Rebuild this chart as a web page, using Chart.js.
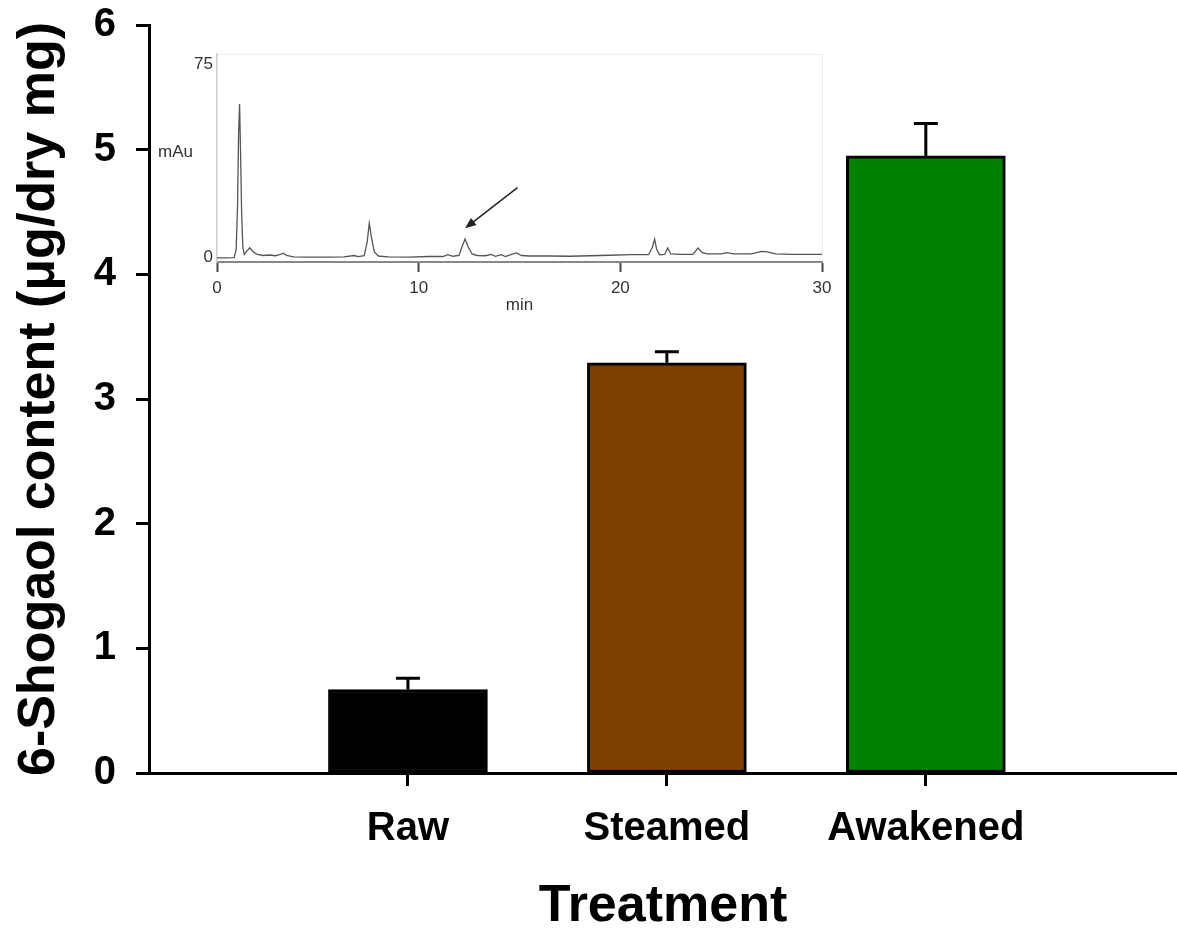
<!DOCTYPE html>
<html><head><meta charset="utf-8">
<script src="https://cdn.jsdelivr.net/npm/chart.js@4/dist/chart.umd.min.js"></script>
<style>
html,body{margin:0;padding:0;background:#fff;}
#wrap{position:relative;width:1177px;height:930px;overflow:hidden;}
#main{position:absolute;left:0;top:0;}
#inset{position:absolute;left:140px;top:40px;}
</style></head><body>
<div id="wrap">
<canvas id="main" width="1177" height="930"></canvas>
<canvas id="inset" width="720" height="285"></canvas>
</div>
<script>
// ---- main bar chart data ----
const categories = ['Raw', 'Steamed', 'Awakened'];
const means = [0.67, 3.29, 4.95];
const errors = [0.09, 0.09, 0.26];
const barColors = ['#000000', '#7f3f00', '#007f00'];
const yTicks = [0, 1, 2, 3, 4, 5, 6];
const catPos = [1, 2, 3];

// ---- inset chromatogram data (min, mAu) ----
const chromTime = [0, 0.5, 0.85, 0.95, 1.02, 1.07, 1.12, 1.17, 1.22, 1.28, 1.35, 1.5, 1.62, 1.8, 2.0, 2.3, 2.6, 2.9, 3.1, 3.3, 3.45, 3.8, 4.5, 5.5, 6.3, 6.8, 7.0, 7.3, 7.45, 7.55, 7.65, 7.8, 8.0, 8.5, 9.5, 10.5, 11.2, 11.45, 11.7, 12.0, 12.15, 12.3, 12.45, 12.65, 12.9, 13.3, 13.6, 13.8, 14.1, 14.3, 14.6, 14.85, 15.1, 15.5, 16.5, 17.5, 18.5, 19.5, 20.5, 21.4, 21.6, 21.7, 21.8, 21.95, 22.2, 22.35, 22.5, 23.0, 23.6, 23.85, 24.05, 24.3, 25.0, 25.3, 25.6, 26.5, 27.0, 27.3, 27.7, 28.5, 30];
const chromSignal = [-0.3, -0.3, -0.2, 3, 20, 48, 59.5, 40, 18, 4, 1.0, 2.5, 3.6, 2.0, 1.0, 0.6, 0.8, 0.5, 0.9, 1.5, 0.6, 0.1, 0, 0, 0.1, 0.6, 0.2, 0.5, 6, 13.1, 8, 2, 0.4, 0.1, 0, 0.2, 0.2, 0.9, 0.3, 0.6, 4, 7.0, 4, 1.2, 0.6, 0.5, 1.0, 0.3, 0.9, 0.2, 1.0, 1.6, 0.6, 0.4, 0.4, 0.3, 0.5, 0.7, 0.9, 0.9, 4, 7.0, 3, 0.9, 1.0, 3.5, 1.2, 1.0, 1.0, 3.5, 1.8, 1.2, 1.2, 1.7, 1.2, 1.2, 2.2, 2.0, 1.2, 1.0, 1.0];
const insetXTicks = [0, 10, 20, 30];
const insetYTicks = [0, 75];
const arrowFrom = [14.9, 27];
const arrowTo = [12.3, 11.2];

const FONT = "'Liberation Sans', Arial, Helvetica, sans-serif";

const errorBars = {
  id: 'errorBars',
  afterDatasetsDraw(chart) {
    const {ctx, scales: {x, y}} = chart;
    ctx.save();
    ctx.strokeStyle = '#000';
    ctx.lineWidth = 3;
    means.forEach((m, i) => {
      const px = x.getPixelForValue(catPos[i]);
      const y0 = y.getPixelForValue(m);
      const y1 = y.getPixelForValue(m + errors[i]);
      ctx.beginPath();
      ctx.moveTo(px, y0); ctx.lineTo(px, y1);
      ctx.moveTo(px - 12, y1); ctx.lineTo(px + 12, y1);
      ctx.stroke();
    });
    ctx.restore();
  }
};

new Chart(document.getElementById('main'), {
  type: 'bar',
  data: {
    datasets: [{
      data: categories.map((c, i) => ({x: catPos[i], y: means[i]})),
      backgroundColor: barColors,
      borderColor: '#000',
      borderWidth: 3,
      borderSkipped: false,
      barThickness: 159
    }]
  },
  options: {
    responsive: false, animation: false, devicePixelRatio: 1, events: [],
    layout: {padding: {top: 25, left: 0, right: 0, bottom: 0}},
    plugins: {legend: {display: false}, tooltip: {enabled: false}},
    scales: {
      x: {
        type: 'linear', min: 0, max: 3.97, offset: false,
        afterBuildTicks: s => { s.ticks = catPos.map(v => ({value: v})); },
        afterFit: s => { s.height = 157; },
        grid: {offset: false, drawOnChartArea: false, drawTicks: true, tickLength: 13, tickWidth: 3, tickColor: '#000'},
        border: {display: true, color: '#000', width: 3},
        ticks: {callback: (v, i) => categories[i], font: {family: FONT, size: 40, weight: 'bold'}, color: '#000', padding: 19, maxRotation: 0, autoSkip: false},
        title: {display: true, text: 'Treatment', font: {family: FONT, size: 52, weight: 'bold', lineHeight: 0.9}, color: '#000', padding: {top: 0, bottom: 0}}
      },
      y: {
        min: 0, max: 6,
        afterBuildTicks: s => { s.ticks = yTicks.map(v => ({value: v})); },
        afterFit: s => { s.width = 149; },
        grid: {drawOnChartArea: false, drawTicks: true, tickLength: 13, tickWidth: 3, tickColor: '#000'},
        border: {display: true, color: '#000', width: 3},
        ticks: {font: {family: FONT, size: 40, weight: 'bold', lineHeight: 0.2}, color: '#000', padding: 20},
        title: {display: true, text: '6-Shogaol content (μg/dry mg)', font: {family: FONT, size: 52, weight: 'bold', lineHeight: 1.2}, color: '#000', padding: {top: 8, bottom: 0}}
      }
    }
  },
  plugins: [errorBars]
});

const insetExtras = {
  id: 'insetExtras',
  afterDraw(chart) {
    const {ctx, chartArea: a, scales: {x, y}} = chart;
    ctx.save();
    ctx.strokeStyle = '#eeeeee';
    ctx.lineWidth = 1;
    ctx.beginPath();
    ctx.moveTo(a.left, a.top + 0.5); ctx.lineTo(a.right + 0.5, a.top + 0.5); ctx.lineTo(a.right + 0.5, y.getPixelForValue(0));
    ctx.stroke();
    ctx.fillStyle = '#333';
    ctx.font = '17px ' + FONT;
    ctx.textBaseline = 'middle';
    ctx.textAlign = 'left';
    ctx.fillText('mAu', 18, 112);
    const x0 = x.getPixelForValue(arrowFrom[0]), y0 = y.getPixelForValue(arrowFrom[1]);
    const x1 = x.getPixelForValue(arrowTo[0]), y1 = y.getPixelForValue(arrowTo[1]);
    const ang = Math.atan2(y1 - y0, x1 - x0);
    const hl = 11, hw = 4.5;
    ctx.strokeStyle = '#222';
    ctx.fillStyle = '#222';
    ctx.lineWidth = 1.5;
    ctx.beginPath();
    ctx.moveTo(x0, y0);
    ctx.lineTo(x1 - Math.cos(ang) * hl * 0.8, y1 - Math.sin(ang) * hl * 0.8);
    ctx.stroke();
    ctx.beginPath();
    ctx.moveTo(x1, y1);
    ctx.lineTo(x1 - Math.cos(ang) * hl + Math.sin(ang) * hw, y1 - Math.sin(ang) * hl - Math.cos(ang) * hw);
    ctx.lineTo(x1 - Math.cos(ang) * hl - Math.sin(ang) * hw, y1 - Math.sin(ang) * hl + Math.cos(ang) * hw);
    ctx.closePath();
    ctx.fill();
    ctx.restore();
  }
};

new Chart(document.getElementById('inset'), {
  type: 'line',
  data: {
    datasets: [{
      data: chromTime.map((t, i) => ({x: t, y: chromSignal[i]})),
      borderColor: '#555',
      borderWidth: 1.3,
      pointRadius: 0,
      tension: 0,
      fill: false
    }]
  },
  options: {
    responsive: false, animation: false, devicePixelRatio: 1, events: [],
    layout: {padding: {top: 13, right: 38, left: 0, bottom: 0}},
    plugins: {legend: {display: false}, tooltip: {enabled: false}},
    scales: {
      x: {
        type: 'linear', min: 0, max: 30,
        afterBuildTicks: s => { s.ticks = insetXTicks.map(v => ({value: v})); },
        afterFit: s => { s.height = 63; },
        grid: {drawOnChartArea: false, drawTicks: true, tickLength: 10, tickWidth: 2, tickColor: '#444'},
        border: {display: true, color: '#888', width: 2},
        ticks: {font: {family: FONT, size: 17}, color: '#333', padding: 6, maxRotation: 0, autoSkip: false},
        title: {display: true, text: 'min', font: {family: FONT, size: 17}, color: '#333', padding: {top: 0, bottom: 9}}
      },
      y: {
        min: -1.93, max: 78.9,
        afterBuildTicks: s => { s.ticks = insetYTicks.map(v => ({value: v})); },
        afterFit: s => { s.width = 77; },
        grid: {drawOnChartArea: false, drawTicks: false},
        border: {display: true, color: '#cccccc', width: 1.5},
        ticks: {font: {family: FONT, size: 17}, color: '#333', padding: 4}
      }
    }
  },
  plugins: [insetExtras]
});
</script>
</body></html>
